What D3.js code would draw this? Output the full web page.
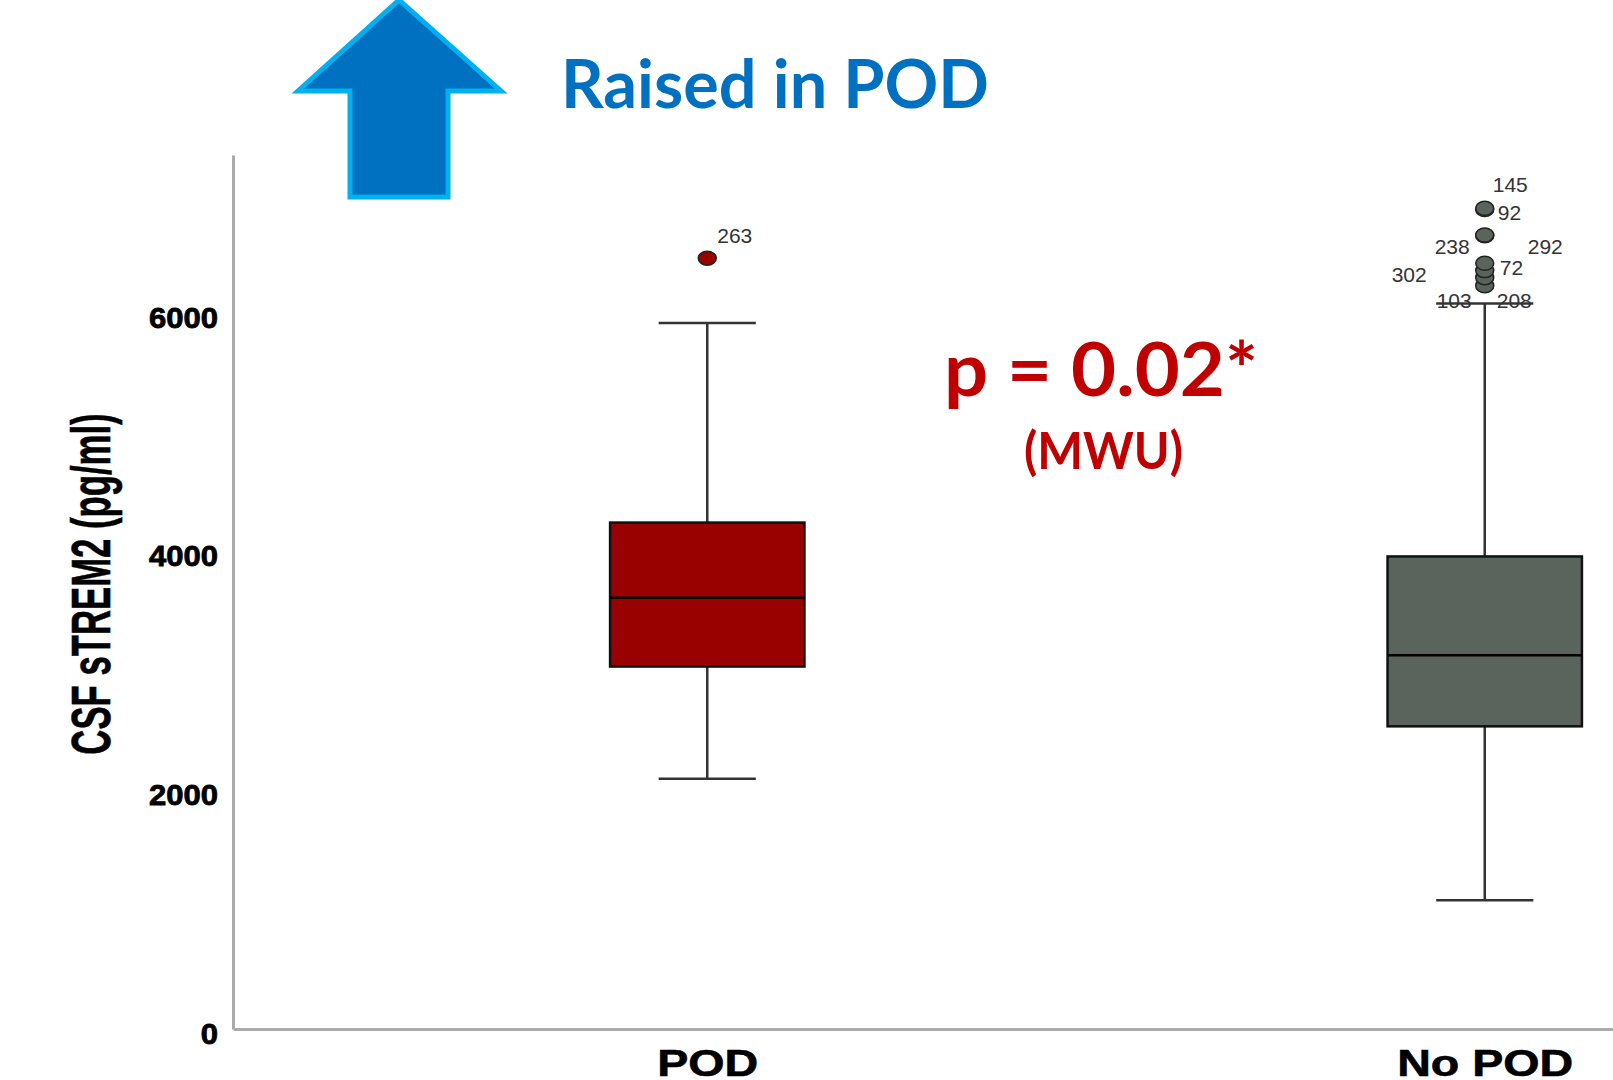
<!DOCTYPE html>
<html>
<head>
<meta charset="utf-8">
<script src="https://cdn.jsdelivr.net/npm/d3@7"></script>
<style>
  html, body { margin: 0; padding: 0; background: #ffffff; }
  svg { display: block; }
</style>
</head>
<body>
<svg id="chart" width="1613" height="1080"></svg>
<script>
// Group summaries (CSF sTREM2, pg/ml)
const groups = ["POD", "No POD"];
const q1Values = [3038, 2537];
const medianValues = [3615, 3132];
const q3Values = [4245, 3961];
const whiskerLowValues = [2098, 1080];
const whiskerHighValues = [5918, 6081];
const boxColors = ["#990000", "#5B635D"];

// Outlying cases: group, value, case number
const outlierGroups = ["POD", "No POD", "No POD", "No POD", "No POD", "No POD", "No POD", "No POD", "No POD"];
const outlierValues = [6461, 6879, 6870, 6655, 6650, 6418, 6357, 6298, 6231];
const outlierCases = ["263", "145", "92", "238", "292", "72", "302", "208", "103"];

const yTickValues = [0, 2000, 4000, 6000];

// Where each case number sits next to its marker: [dx, dy, anchor]
const caseLabelPlacement = {
  "263": [10, -15, "start"],
  "145": [8, -16, "start"],
  "92":  [13, 11, "start"],
  "238": [-15, 19, "end"],
  "292": [43, 18, "start"],
  "72":  [15, 12, "start"],
  "302": [-58, 11, "end"],
  "208": [12, 30, "start"],
  "103": [-13, 22, "end"]
};

const svg = d3.select("#chart");

const plotLeft = 233, plotBottom = 1029, plotTop = 155;

const y = d3.scaleLinear().domain([0, 7326]).range([plotBottom, plotTop]);
const x = d3.scalePoint().domain(groups).range([plotLeft, 1959]).padding(0.61);
const boxWidth = x.step() * 0.25;
const capWidth = boxWidth * 0.5;

// Y axis
const yAxis = svg.append("g")
  .attr("transform", `translate(${plotLeft},0)`)
  .call(d3.axisLeft(y).tickValues(yTickValues).tickSize(0).tickSizeOuter(0).tickPadding(15).tickFormat(d3.format("d")));
yAxis.select(".domain").attr("stroke", "#ababab").attr("stroke-width", 3);
yAxis.selectAll(".tick text")
  .attr("x", 0)
  .attr("dy", 14)
  .attr("transform", "translate(-15,0) scale(1.07,1)")
  .attr("fill", "#000")
  .attr("stroke", "#000")
  .attr("stroke-width", 0.8)
  .style("font-family", "'Liberation Sans', Arial, sans-serif")
  .style("font-weight", "bold")
  .style("font-size", "29px");

// X axis
const xAxis = svg.append("g")
  .attr("transform", `translate(0,${plotBottom})`)
  .call(d3.axisBottom(x).tickSize(0).tickSizeOuter(0));
xAxis.select(".domain").attr("stroke", "#ababab").attr("stroke-width", 3);
xAxis.selectAll("text")
  .attr("y", 47)
  .attr("dy", 0)
  .attr("transform", "scale(1.26,1)")
  .attr("fill", "#000")
  .attr("stroke", "#000")
  .attr("stroke-width", 0.6)
  .style("font-family", "'Liberation Sans', Arial, sans-serif")
  .style("font-weight", "bold")
  .style("font-size", "37px");

// Y axis title
svg.append("text")
  .attr("transform", `translate(110,584) rotate(-90) scale(0.62,1)`)
  .attr("text-anchor", "middle")
  .attr("fill", "#000")
  .attr("stroke", "#000")
  .attr("stroke-width", 0.6)
  .style("font-family", "'Liberation Sans', Arial, sans-serif")
  .style("font-weight", "bold")
  .style("font-size", "56px")
  .text("CSF sTREM2 (pg/ml)");

// Box plots
const boxData = groups.map((g, i) => ({
  group: g, q1: q1Values[i], median: medianValues[i], q3: q3Values[i],
  lo: whiskerLowValues[i], hi: whiskerHighValues[i], color: boxColors[i]
}));

const boxes = svg.append("g").selectAll("g").data(boxData).join("g")
  .attr("transform", d => `translate(${x(d.group)},0)`);

// whisker stems
boxes.append("line")
  .attr("x1", 0).attr("x2", 0)
  .attr("y1", d => y(d.hi)).attr("y2", d => y(d.q3))
  .attr("stroke", "#333").attr("stroke-width", 2.5);
boxes.append("line")
  .attr("x1", 0).attr("x2", 0)
  .attr("y1", d => y(d.q1)).attr("y2", d => y(d.lo))
  .attr("stroke", "#333").attr("stroke-width", 2.5);
// whisker caps
boxes.append("line")
  .attr("x1", -capWidth / 2).attr("x2", capWidth / 2)
  .attr("y1", d => y(d.hi)).attr("y2", d => y(d.hi))
  .attr("stroke", "#333").attr("stroke-width", 2.5);
boxes.append("line")
  .attr("x1", -capWidth / 2).attr("x2", capWidth / 2)
  .attr("y1", d => y(d.lo)).attr("y2", d => y(d.lo))
  .attr("stroke", "#333").attr("stroke-width", 2.5);
// interquartile box
boxes.append("rect")
  .attr("x", -boxWidth / 2)
  .attr("width", boxWidth)
  .attr("y", d => y(d.q3))
  .attr("height", d => y(d.q1) - y(d.q3))
  .attr("fill", d => d.color)
  .attr("stroke", "#111")
  .attr("stroke-width", 2.5);
// median
boxes.append("line")
  .attr("x1", -boxWidth / 2).attr("x2", boxWidth / 2)
  .attr("y1", d => y(d.median)).attr("y2", d => y(d.median))
  .attr("stroke", "#000").attr("stroke-width", 2.5);

// Outliers
const outliers = outlierValues.map((v, i) => ({
  group: outlierGroups[i], value: v, caseId: outlierCases[i],
  color: boxColors[groups.indexOf(outlierGroups[i])]
}));

const outG = svg.append("g");
outG.selectAll("ellipse").data(outliers.slice().reverse()).join("ellipse")
  .attr("cx", d => x(d.group))
  .attr("cy", d => y(d.value))
  .attr("rx", 9).attr("ry", 7)
  .attr("fill", d => d.color)
  .attr("stroke", "#222")
  .attr("stroke-width", 1.5);

outG.selectAll("text").data(outliers).join("text")
  .attr("x", d => x(d.group) + caseLabelPlacement[d.caseId][0])
  .attr("y", d => y(d.value) + caseLabelPlacement[d.caseId][1])
  .attr("text-anchor", d => caseLabelPlacement[d.caseId][2])
  .attr("fill", "#333")
  .style("font-family", "'Liberation Sans', Arial, sans-serif")
  .style("font-size", "21px")
  .text(d => d.caseId);

// "Raised in POD" arrow and heading
const arrowPts = [[399, 0], [501, 91], [448, 91], [448, 197], [350, 197], [350, 91], [298, 91]];
svg.append("path")
  .attr("d", d3.line()(arrowPts) + "Z")
  .attr("fill", "#0070C0")
  .attr("stroke", "#00B0F0")
  .attr("stroke-width", 5)
  .attr("stroke-linejoin", "miter");

svg.append("text")
  .attr("x", 561).attr("y", 108)
  .attr("textLength", 428)
  .attr("lengthAdjust", "spacingAndGlyphs")
  .attr("fill", "#0070C0")
  .style("font-family", "Lato, 'Open Sans', sans-serif")
  .style("font-weight", "bold")
  .style("font-size", "66px")
  .text("Raised in POD");

// Test result
svg.append("text")
  .attr("x", 944).attr("y", 396)
  .attr("textLength", 314)
  .attr("lengthAdjust", "spacingAndGlyphs")
  .attr("fill", "#C00000")
  .style("font-family", "Lato, 'Open Sans', sans-serif")
  .style("font-weight", "bold")
  .style("font-size", "74px")
  .text("p = 0.02*");

svg.append("text")
  .attr("x", 1024).attr("y", 469)
  .attr("textLength", 159)
  .attr("lengthAdjust", "spacingAndGlyphs")
  .attr("fill", "#C00000")
  .style("font-family", "Lato, 'Open Sans', sans-serif")
  .style("font-weight", "bold")
  .style("font-size", "51px")
  .text("(MWU)");
</script>
</body>
</html>
